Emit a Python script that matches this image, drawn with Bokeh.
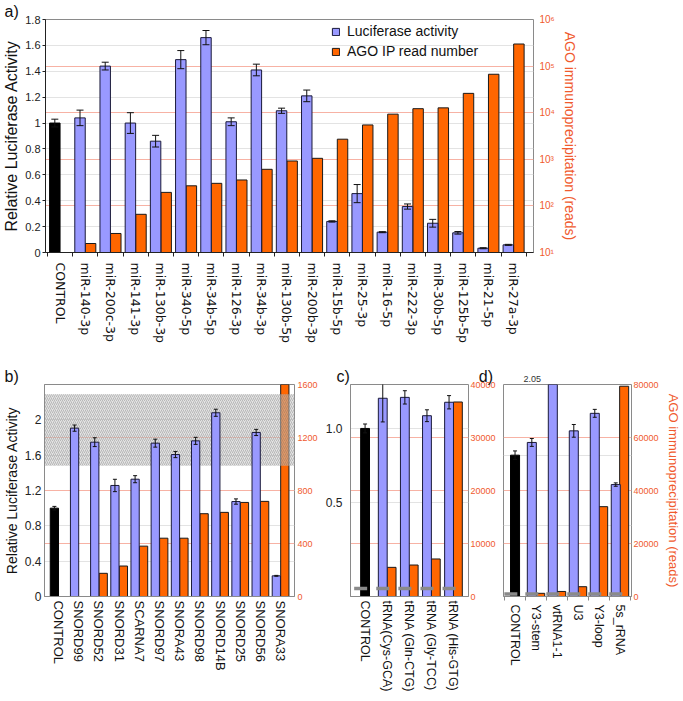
import numpy as np
from bokeh.plotting import figure
from bokeh.models import (ColumnDataSource, Range1d, LinearAxis, LogAxis, LogScale,
                          FixedTicker, Whisker, TeeHead, Grid, Legend, LegendItem, Title)
from bokeh.layouts import column, row
from bokeh.embed import file_html
from bokeh.resources import INLINE

# ---------------- data ----------------
a_cats = ["CONTROL", "miR-140-3p", "miR-200c-3p", "miR-141-3p", "miR-130b-3p", "miR-340-5p",
          "miR-34b-5p", "miR-126-3p", "miR-34b-3p", "miR-130b-5p", "miR-200b-3p", "miR-15b-5p",
          "miR-25-3p", "miR-16-5p", "miR-222-3p", "miR-30b-5p", "miR-125b-5p", "miR-21-5p", "miR-27a-3p"]
a_luc = [1.00, 1.04, 1.44, 1.00, 0.86, 1.49, 1.66, 1.01, 1.41, 1.095, 1.21, 0.24,
         0.455, 0.157, 0.355, 0.226, 0.152, 0.033, 0.059]
a_err = [0.03, 0.06, 0.03, 0.08, 0.045, 0.07, 0.055, 0.03, 0.045, 0.02, 0.045, 0.005,
         0.07, 0.004, 0.02, 0.03, 0.01, 0.004, 0.004]
a_reads = [None, 15.6, 25.6, 66, 195, 270, 305, 360, 610, 920, 1050, 2700,
           5460, 9300, 12200, 12700, 26000, 66800, 298000]

b_cats = ["CONTROL", "SNORD99", "SNORD52", "SNORD31", "SCARNA7", "SNORD97", "SNORA43",
          "SNORD98", "SNORD14B", "SNORD25", "SNORD56", "SNORA33"]
b_luc = [1.0, 1.906, 1.747, 1.257, 1.328, 1.736, 1.607, 1.762, 2.08, 1.075, 1.857, 0.234]
b_err = [0.02, 0.035, 0.05, 0.07, 0.04, 0.045, 0.035, 0.04, 0.04, 0.03, 0.035, 0.005]
b_reads = [None, 0, 175, 230, 380, 440, 440, 625, 635, 710, 718, 1650]
b_band = [1.48, 2.29]   # shaded (hatched) range of luciferase activity

c_cats = ["CONTROL", "tRNA(Cys-GCA)", "tRNA (Gln-CTG)", "tRNA (Gly-TCC)", "tRNA (His-GTG)"]
c_luc = [1.0, 1.204, 1.21, 1.086, 1.177]
c_err = [0.03, 0.16, 0.045, 0.04, 0.045]
c_reads = [None, 5500, 5940, 7080, 36700]
c_dash = [1500, 1500, 1500, 1500, 1500]

d_cats = ["CONTROL", "Y3-stem", "vtRNA1-1", "U3", "Y3-loop", "5s_rRNA"]
d_luc = [1.0, 1.09, 2.05, 1.172, 1.296, 0.792]
d_err = [0.03, 0.028, 0.05, 0.045, 0.028, 0.012]
d_reads = [None, 1200, 1900, 3700, 33900, 79350]
d_dash = [900, 900, 900, 900, 900, 900]

panel_letters = ["a)", "b)", "c)", "d)"]

FONT = "Liberation Sans"
BLUE = "#9999ff"
ORANGE = "#ff6600"
RED_TXT = "#f05a2e"
RED_GRID = "#f7b2a4"
GRAY_GRID = "#e3e3e3"
FRAME = "#8a8a8a"


def build(cats, luc, err, reads, *, fw, fh, bl, br, bb, xr, yr, rr, log,
          lticks, lover, rticks, rover, bw, off, black_off, cap,
          ltitle=None, ltitle_size="14px", rtitle=None, rtitle_size="14px",
          ltick_size="12px", rtick_size="9px", xfont="12px", xfont_family=FONT, xstandoff=4,
          show_left=True, laxis_color=FRAME, baxis_color=FRAME, lstandoff=3, ltick_out=0,
          rstandoff=3, minor=False, dash=None, band=None):
    n = len(cats)
    xc = np.arange(n) + 0.5
    p = figure(frame_width=fw, frame_height=fh, min_border_left=bl, min_border_right=br,
               min_border_top=19, min_border_bottom=bb, x_range=Range1d(*xr),
               y_range=Range1d(*yr), output_backend="svg", toolbar_location=None, title=None,
               y_axis_location="left" if show_left else None)
    p.outline_line_color = FRAME
    p.extra_y_ranges = {"r": Range1d(*rr)}
    if log:
        p.extra_y_scales = {"r": LogScale()}
        rax = LogAxis(y_range_name="r")
    else:
        rax = LinearAxis(y_range_name="r")
    rax.ticker = FixedTicker(ticks=rticks)
    if rover:
        rax.major_label_overrides = rover
    rax.axis_line_color = None
    rax.major_tick_line_color = None
    rax.minor_tick_line_color = None
    rax.major_tick_out = 0
    rax.major_tick_in = 0
    rax.major_label_standoff = rstandoff
    rax.major_label_text_color = RED_TXT
    rax.major_label_text_font = FONT
    rax.major_label_text_font_size = rtick_size
    if rtitle:
        rax.axis_label = rtitle
        rax.axis_label_text_color = RED_TXT
        rax.axis_label_text_font = FONT
        rax.axis_label_text_font_style = "normal"
        rax.axis_label_text_font_size = rtitle_size
        rax.axis_label_standoff = 4
    p.add_layout(rax, "right")

    # grids
    for g in p.xgrid:
        g.visible = False
    for g in p.ygrid:
        g.visible = False
    p.add_layout(Grid(dimension=1, ticker=FixedTicker(ticks=lticks),
                      grid_line_color=GRAY_GRID, grid_line_width=1))
    p.add_layout(Grid(dimension=1, ticker=rax.ticker, y_range_name="r",
                      grid_line_color=RED_GRID, grid_line_width=1))

    # left axis
    if show_left:
        lax = p.yaxis[0]
        lax.ticker = FixedTicker(ticks=lticks)
        if lover:
            lax.major_label_overrides = lover
        lax.axis_line_color = laxis_color
        lax.major_tick_line_color = laxis_color
        lax.major_tick_out = ltick_out
        lax.major_tick_in = 0
        lax.minor_tick_line_color = None
        lax.major_label_standoff = lstandoff
        lax.major_label_text_font = FONT
        lax.major_label_text_font_size = ltick_size
        lax.major_label_text_color = "#222222"
        if ltitle:
            lax.axis_label = ltitle
            lax.axis_label_text_font = FONT
            lax.axis_label_text_font_style = "normal"
            lax.axis_label_text_font_size = ltitle_size
            lax.axis_label_text_color = "#111111"
            lax.axis_label_standoff = 2

    # bottom axis
    bax = p.xaxis[0]
    bax.ticker = FixedTicker(ticks=list(xc), minor_ticks=list(np.arange(n + 1)))
    bax.major_label_overrides = {float(x): c for x, c in zip(xc, cats)}
    bax.major_label_orientation = "vertical"
    bax.major_tick_line_color = None
    bax.major_tick_out = 0
    bax.major_tick_in = 0
    bax.minor_tick_in = 0
    bax.minor_tick_out = 4 if minor else 0
    bax.minor_tick_line_color = baxis_color if minor else None
    bax.axis_line_color = baxis_color
    bax.major_label_standoff = xstandoff
    bax.major_label_text_font = xfont_family
    bax.major_label_text_font_size = xfont
    bax.major_label_text_color = "#111111"

    # orange (AGO reads, right axis)
    idx = [i for i, r in enumerate(reads) if r]
    src_o = ColumnDataSource(dict(x=[xc[i] + off for i in idx], top=[reads[i] for i in idx]))
    ro = p.vbar(x="x", top="top", bottom=rr[0], width=bw, source=src_o, y_range_name="r",
                fill_color=ORANGE, line_color="#1a1a1a", line_width=1)

    if band is not None:
        p.quad(left=xr[0], right=xr[1], bottom=band[0], top=band[1],
               fill_color="#c8c8c8", fill_alpha=0.5, line_color=None,
               hatch_pattern="/", hatch_color="#6e6e6e", hatch_alpha=0.55,
               hatch_scale=4, hatch_weight=0.7)

    # blue (luciferase, left axis)
    src_b = ColumnDataSource(dict(x=list(xc[1:] - off), top=luc[1:]))
    rb = p.vbar(x="x", top="top", bottom=yr[0], width=bw, source=src_b,
                fill_color=BLUE, line_color="#1a1a3a", line_width=1)
    # control
    src_k = ColumnDataSource(dict(x=[xc[0] - black_off], top=[luc[0]]))
    p.vbar(x="x", top="top", bottom=yr[0], width=bw, source=src_k,
           fill_color="black", line_color="black")

    # dash markers
    if dash is not None:
        src_d = ColumnDataSource(dict(x=list(xc - off), y=dash))
        p.scatter(x="x", y="y", source=src_d, marker="dash", size=13, y_range_name="r",
                  line_color="#8a8a8a", line_width=3.5)

    # error bars
    wx = [xc[0] - black_off] + list(xc[1:] - off)
    src_w = ColumnDataSource(dict(x=wx, up=[v + e for v, e in zip(luc, err)],
                                  lo=[v - e for v, e in zip(luc, err)]))
    w = Whisker(base="x", upper="up", lower="lo", source=src_w, level="annotation",
                line_color="#111111", line_width=1,
                upper_head=TeeHead(size=cap, line_color="#111111", line_width=1),
                lower_head=TeeHead(size=cap, line_color="#111111", line_width=1))
    p.add_layout(w)
    return p, rb, ro, xc


def heading(p, text, offset, size="16px", color="#111111", standoff=0):
    p.add_layout(Title(text=text, align="left", offset=offset, standoff=standoff,
                       text_font=FONT, text_font_size=size, text_font_style="normal",
                       text_color=color), "above")


# ---------------- panel a ----------------
A = dict(fw=488, fh=233, bl=41, br=138, bb=113)
a_xr, a_yr = (-0.08, 19.29), (0, 1.8)
pa, rb_a, ro_a, xa = build(
    a_cats, a_luc, a_err, a_reads, **A,
    xr=a_xr, yr=a_yr, rr=(10, 1e6), log=True,
    lticks=[0, 0.2, 0.4, 0.6, 0.8, 1.0, 1.2, 1.4, 1.6, 1.8], lover={0: "0", 1: "1"},
    rticks=[10, 100, 1000, 10000, 100000, 1000000],
    rover={10: "10¹", 100: "10²", 1000: "10³", 10000: "10⁴", 100000: "10⁵", 1000000: "10⁶"},
    bw=0.415, off=0.21, black_off=0.21, cap=7,
    ltitle="Relative Luciferase Activity", ltitle_size="16px",
    rtitle="AGO immunoprecipitation (reads)", rtitle_size="14px",
    ltick_size="11px", rtick_size="10px", xfont="12.5px", xfont_family="DejaVu Sans",
    xstandoff=6, lstandoff=2, rstandoff=6,
    laxis_color="#222222", baxis_color="#222222", ltick_out=3, minor=True)
legend = Legend(items=[LegendItem(label="Luciferase activity", renderers=[rb_a]),
                       LegendItem(label="AGO IP read number", renderers=[ro_a])],
                location=(286, 193), glyph_width=9, glyph_height=9, label_height=14,
                spacing=4, padding=2, margin=0, label_standoff=7,
                label_text_font=FONT, label_text_font_size="14px", label_text_color="#111111",
                background_fill_alpha=0, border_line_color=None)
pa.add_layout(legend)
heading(pa, panel_letters[0], -A["bl"])

# ---------------- panel b ----------------
B = dict(fw=250, fh=212, bl=40, br=28, bb=100)
b_xr, b_yr = (-0.2, 12.19), (0, 2.4)
pb, _, _, _ = build(
    b_cats, b_luc, b_err, b_reads, **B,
    xr=b_xr, yr=b_yr, rr=(0, 1600), log=False,
    lticks=[0, 0.4, 0.8, 1.2, 1.6, 2.0], lover={0: "0", 2: "2"},
    rticks=[0, 400, 800, 1200, 1600], rover=None,
    bw=0.41, off=0.21, black_off=0.21, cap=4, lstandoff=3,
    ltitle="Relative Luciferase Activity", ltitle_size="14px",
    ltick_size="12px", rtick_size="9px", xfont="13px", band=b_band)
heading(pb, panel_letters[1], -B["bl"])

# ---------------- panel c ----------------
C = dict(fw=118, fh=212, bl=25, br=27, bb=100)
c_xr, c_yr = (-0.16, 5.18), (-0.136, 1.297)
pc, _, _, _ = build(
    c_cats, c_luc, c_err, c_reads, **C,
    xr=c_xr, yr=c_yr, rr=(0, 40000), log=False,
    lticks=[0.5, 1.0], lover={1: "1.0"},
    rticks=[0, 10000, 20000, 30000, 40000], rover=None, rstandoff=2,
    bw=0.4, off=0.2, black_off=0.0, cap=4, lstandoff=8,
    ltick_size="12px", rtick_size="9px", xfont="12.5px", dash=c_dash)
# letters c) and d) share the strip above panel c (d) sits left of panel d's frame)
heading(pc, panel_letters[2] + "\u00a0" * 29 + panel_letters[3], -14)

# ---------------- panel d ----------------
D = dict(fw=128, fh=212, bl=5, br=46, bb=100)
d_xr, d_yr = (-0.05, 6.05), (0, 1.5)
pd_, _, _, xd = build(
    d_cats, d_luc, d_err, d_reads, **D,
    xr=d_xr, yr=d_yr, rr=(0, 80000), log=False,
    lticks=[0.5, 1.0, 1.5], lover=None,
    rticks=[0, 20000, 40000, 60000, 80000], rover=None, rstandoff=2,
    bw=0.43, off=0.2, black_off=0.0, cap=4, show_left=False, minor=True,
    rtitle="AGO immunoprecipitation (reads)", rtitle_size="13px",
    rtick_size="9px", xfont="12.5px", dash=d_dash)
# value label of the clipped vtRNA1-1 bar, shown above the frame next to that bar
bar_px = (xd[2] - 0.2 - d_xr[0]) / (d_xr[1] - d_xr[0]) * D["fw"]
heading(pd_, f"{d_luc[2]:.2f}", int(round(bar_px)) - 29, size="9px", color="#333333",
        standoff=6)

layout = column(pa, row(pb, pc, pd_))
open("out.html", "w").write(file_html(layout, INLINE))
